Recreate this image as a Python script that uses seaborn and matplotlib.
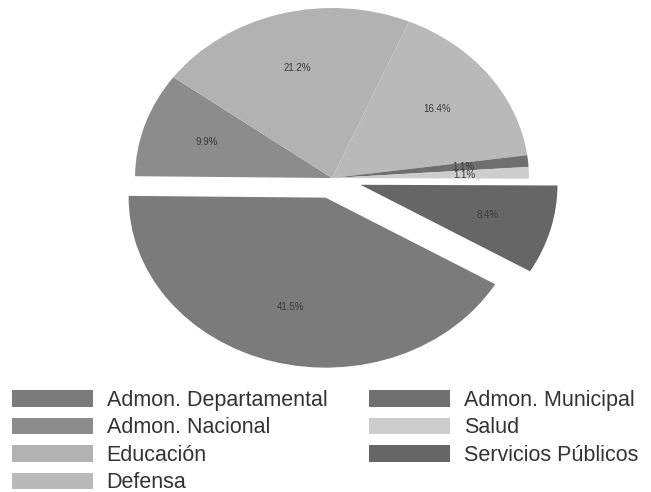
import matplotlib
matplotlib.use("Agg")
import matplotlib.pyplot as plt
import seaborn as sns

# data (percent of total)
sectors = ["Admon. Departamental", "Admon. Nacional", "Educación", "Defensa",
           "Admon. Municipal", "Salud", "Servicios Públicos"]
shares = [41.5, 9.9, 21.2, 16.4, 1.1, 1.1, 8.4]
explode = [0.12, 0, 0, 0, 0, 0, 0.15]
colors = ["#7b7b7b", "#8c8c8c", "#b2b2b2", "#b9b9b9", "#6f6f6f", "#cdcdcd", "#666666"]

sns.set_theme(style="white")
plt.rcParams["font.family"] = ["Liberation Sans", "DejaVu Sans"]

fig = plt.figure(figsize=(6.51, 4.92), dpi=100)
ax = fig.add_axes([0, 0, 1, 1])

total = sum(shares)
wedges, texts, autotexts = ax.pie(
    shares, explode=explode, colors=colors, counterclock=False,
    startangle=-30.6, pctdistance=0.67,
    autopct=lambda p: f"{p * total / 100:.1f}%",
    wedgeprops=dict(linewidth=0),
    textprops=dict(fontsize=7, color="#3a3a3a"))

# the original pie is squashed vertically
ax.set_aspect("auto")
ax.set_xlim(-332 / 197, (651 - 332) / 197)
ax.set_ylim((178 - 492) / 170, 178 / 170)
ax.axis("off")

fig.legend(wedges, sectors, ncol=2, frameon=False, loc="upper left",
           bbox_to_anchor=(12 / 651, 1 - 390 / 492), borderaxespad=0,
           borderpad=0, fontsize=15.5, handlelength=3.75, handleheight=0.8,
           handletextpad=0.65, columnspacing=1.95, labelspacing=0.3,
           labelcolor="#333333")

fig.savefig("out.png", dpi=100, facecolor="white")
